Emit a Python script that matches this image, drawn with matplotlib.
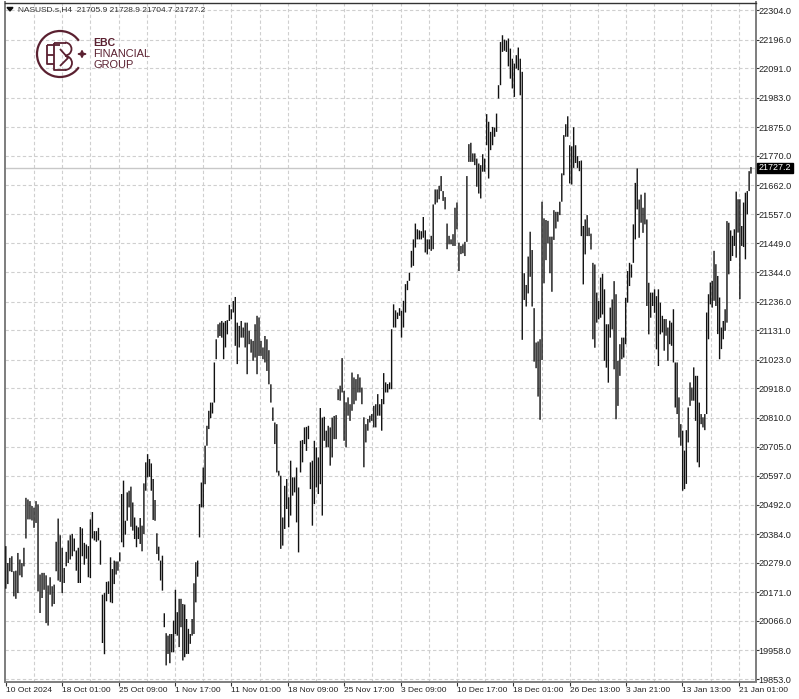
import numpy as np
import matplotlib
matplotlib.use("Agg")
import matplotlib.pyplot as plt
from matplotlib.patches import Arc, Rectangle, Polygon

# highs / lows, one pair of lists per stretch of the x axis
high_a = [20340,20278,20297,20303,20248,20250,20315,20291,20278,20334,20517,20511,20505,20487,20481,20505,20493,20236,20242,20242,20233,20196,20226,20193,20199,20356,20441,20380,20334,20260,20319,20361,20380,20385,20368,20324,20334,20410,20405,20352,20346,20340,20438,20465,20395,20395,20407,20361,20162,20168,20209,20211]
low_a = [20184,20201,20248,20245,20156,20147,20168,20233,20226,20266,20368,20438,20438,20434,20407,20425,20174,20095,20150,20180,20058,20049,20162,20119,20128,20248,20214,20209,20168,20205,20266,20278,20291,20303,20321,20250,20205,20205,20303,20272,20294,20226,20223,20368,20361,20356,20361,20272,19985,19944,20138,20165]

high_b = [20299,20256,20287,20284,20284,20317,20531,20580,20433,20537,20543,20558,20500,20445,20415,20409,20443,20415,20570,20647,20677,20659,20643,20586,20509,20387,20338,20287,20305,20094,20021,20012,20018,20018,20067,20180,20098,20147,20147,20128,20126,20073,20037,20018,20073,20204,20281,20287,20494,20573,20628,20708,20781,20836,20866,20866,21013,21098,21153,21159,21165,21159,21165,21168]
low_b = [20134,20131,20201,20236,20250,20284,20354,20336,20382,20433,20482,20411,20397,20366,20336,20366,20348,20321,20384,20543,20592,20594,20543,20436,20433,20311,20287,20214,20177,20043,19903,19945,19911,19951,19951,20018,20012,19970,20043,19921,19933,19945,19945,19982,20012,20018,20134,20228,20372,20482,20482,20567,20708,20769,20809,20826,20866,21025,21104,21110,21104,21025,21068,21116]

high_c = [21224,21208,21238,21253,21159,21147,21165,21141,21159,21159,21129,21098,21092,21153,21184,21178,21092,21068,21110,21098,21058,20933,20848,20793,20787,20616,20598,20445,20561,20586,20519,20653,20592,20592,20628,20555,20726,20729,20775,20777,20781,20647,20653,20726,20702,20665,20846,20811,20814,20763,20781,20775,20811,20817,20820,20915]
low_c = [21165,21171,21196,21074,21007,21068,21104,21104,21068,20970,21080,21049,21019,21031,20970,21037,21037,21025,21013,20982,20933,20866,20799,20714,20610,20598,20330,20342,20403,20476,20409,20452,20525,20537,20427,20317,20610,20647,20714,20689,20732,20549,20415,20494,20555,20531,20567,20452,20726,20702,20702,20635,20665,20732,20732,20875]

high_d = [20928,21029,20909,20867,20885,20860,20976,20958,20952,20970,20958,20921,20812,20787,20806,20818,20824,20854,20860,20897,20860,20879,20974,20940,20934,20940,21135,21226,21204,21196,21212,21202,21239,21300,21312,21342,21422,21464,21522,21501,21497,21494,21546,21497,21464,21464,21477,21592,21647,21647,21660,21696,21641,21619,21522,21477,21464,21483,21580,21599,21452]
low_d = [20873,20903,20726,20702,20818,20799,20836,20860,20873,20903,20903,20860,20629,20720,20763,20793,20799,20775,20775,20818,20818,20763,20860,20903,20903,20915,20915,21141,21141,21172,21184,21104,21141,21196,21278,21312,21361,21367,21434,21464,21464,21464,21470,21416,21409,21428,21422,21428,21592,21599,21611,21641,21605,21574,21428,21446,21446,21440,21440,21501,21348]

high_e = [21440,21446,21455,21696,21813,21818,21779,21779,21760,21742,21736,21776,21760,21923,21895,21858,21876,21874,21925,22029,22187,22212,22196,22193,22200,22163,22126,22108,22139,22167,22126,22078,21340,21297,21401,21492,21425,21212,21086,21090,21098,21602,21541,21535,21532,21474,21474,21571,21565,21565,21602,21706,21846,21886,21915,21809]
low_e = [21410,21413,21403,21455,21748,21748,21748,21736,21657,21632,21614,21712,21712,21809,21687,21791,21809,21840,21858,21980,22029,22151,22155,22151,22098,22053,22017,21986,22090,22084,21992,21096,21242,21218,21266,21327,21218,21016,20992,20888,20803,21022,21303,21388,21449,21340,21272,21462,21504,21529,21553,21602,21699,21840,21840,21669]

high_f = [21805,21875,21809,21769,21751,21753,21513,21537,21553,21507,21485,21378,21372,21269,21238,21324,21338,21281,21153,21153,21214,21244,21311,21263,21019,21080,21104,21104,21250,21348,21378,21372,21519,21671,21724,21610,21628,21580,21635,21537,21305,21269,21269,21281,21256,21281,21232]
low_f = [21665,21726,21744,21726,21714,21476,21299,21409,21476,21476,21427,21098,21067,21159,21171,21177,21189,21019,20994,20939,21104,21134,20988,20805,20854,20964,21025,21031,21080,21232,21293,21324,21378,21464,21574,21470,21525,21488,21519,21220,21116,21177,21220,21195,21061,21000,21116]

high_g = [21184,21172,21172,21141,21166,21159,21208,21013,21013,20885,20787,20763,20690,20765,20848,20940,20921,20995,20964,20964,20866,20824,20812,20824,21196,21263,21306,21312,21422,21373,21330,21251,21141,21165,21208,21531,21525,21497,21477,21501,21639,21611,21611,21513,21599,21635,21641,21714,21729]
low_g = [21123,21056,21111,21019,21080,21074,21013,20848,20824,20738,20708,20543,20549,20568,20720,20854,20873,20873,20799,20647,20629,20787,20775,20765,20824,21098,21226,21214,21239,21220,21117,21025,21062,21098,21129,21159,21336,21385,21403,21440,21397,21489,21245,21440,21436,21391,21556,21641,21705]

# bar numbers on the time axis covered by each stretch
spans = [(0, 51), (52, 110), (111, 165), (166, 225), (226, 280), (281, 325), (326, 370)]
highs = [high_a, high_b, high_c, high_d, high_e, high_f, high_g]
lows = [low_a, low_b, low_c, low_d, low_e, low_f, low_g]

price_ticks = [22304,22196,22091,21983,21875,21770,21662,21557,21449,21344,21236,21131,21023,20918,20810,20705,20597,20492,20384,20279,20171,20066,19958,19853]
date_ticks = [0, 28, 56, 84, 112, 140, 168, 196, 224, 252, 280, 308, 336, 364]
date_labels = ["10 Oct 2024","18 Oct 01:00","25 Oct 09:00","1 Nov 17:00","11 Nov 01:00","18 Nov 09:00","25 Nov 17:00","3 Dec 09:00","10 Dec 17:00","18 Dec 01:00","26 Dec 13:00","3 Jan 21:00","13 Jan 13:00","21 Jan 01:00"]
header = "NASUSD.s,H4  21705.9 21728.9 21704.7 21727.2"
last_price = 21727.2

W, H = 799, 699
plt.rcParams["font.family"] = ["Liberation Sans", "DejaVu Sans"]
fig = plt.figure(figsize=(W / 100, H / 100), dpi=100)
ax = fig.add_axes([5.3 / W, 1 - 681.5 / H, (755.5 - 5.3) / W, (681.5 - 2.5) / H])
ax.set_xlim(-0.25, 372.25)
ax.set_ylim(19844, 22332)

for g in price_ticks:
    ax.axhline(g, color="#cfcfcf", lw=0.8, dashes=(3, 2.2), zorder=1)
for g in range(14, 372, 14):
    ax.axvline(g, color="#cfcfcf", lw=0.8, dashes=(3, 2.2), zorder=1)
ax.axhline(last_price, color="#c8c8c8", lw=1, zorder=1)

for (a, b), hi, lo in zip(spans, highs, lows):
    xs = np.linspace(a, b, len(hi))
    bars = ax.vlines(xs, lo, hi, color="#111111", lw=1.0, zorder=3)
    bars.set_snap(False)

for s in ax.spines.values():
    s.set_color("#7d7d7d")
    s.set_linewidth(1.4)
ax.spines["top"].set_color("#333333")
ax.spines["top"].set_linewidth(1)

ax.yaxis.tick_right()
ax.set_yticks(price_ticks)
ax.set_yticklabels(["%.1f" % p for p in price_ticks], fontsize=6.6, color="#222222")
ax.tick_params(axis="y", length=2, width=0.8, pad=0.3, color="#333333")
ax.set_xticks(date_ticks)
ax.set_xticklabels(date_labels, fontsize=6.0, color="#222222", ha="left")
ax.tick_params(axis="x", length=3, width=0.8, pad=0.6, color="#333333")

# overlay in pixel units for the header, price box and logo
ov = fig.add_axes([0, 0, 1, 1])
ov.set_xlim(0, W)
ov.set_ylim(H, 0)
ov.axis("off")
ov.patch.set_alpha(0)
ov.add_patch(Polygon([[7, 7.5], [13, 7.5], [10, 11]], color="#111111"))
ov.text(18.5, 9.5, header, fontsize=6.0, color="#333333", va="center", ha="left")
ov.add_patch(Rectangle((757, 163), 36, 10, color="black"))
ov.text(775, 168, "21727.2", fontsize=6.4, color="white", va="center", ha="center")

maroon = "#5a2030"
ov.add_patch(Arc((60, 54), 46, 46, theta1=35, theta2=325, color=maroon, lw=1.6))
for seg in [[(47, 45), (47, 64), (54, 64)], [(47, 45), (60, 45)], [(47, 54.5), (54, 54.5)],
            [(54, 43), (54, 70), (66, 70)], [(54, 43), (66, 43)], [(60, 49), (68, 58), (60, 66)]]:
    px, py = zip(*seg)
    ov.plot(px, py, color=maroon, lw=1.3, solid_capstyle="butt")
ov.add_patch(Arc((65, 49), 13, 13, theta1=-90, theta2=90, color=maroon, lw=1.3))
ov.add_patch(Arc((65, 63), 14, 14, theta1=-90, theta2=90, color=maroon, lw=1.3))
ov.add_patch(Polygon([[82, 50.5], [83.2, 53.2], [86, 54], [83.2, 54.8], [82, 57.5], [80.8, 54.8], [78, 54], [80.8, 53.2]], color=maroon))
ov.text(93, 42.5, "EBC", fontsize=7.6, weight="bold", color=maroon, va="center", ha="left")
ov.text(93, 54, "FINANCIAL", fontsize=7.9, color=maroon, va="center", ha="left")
ov.text(93, 65.5, "GROUP", fontsize=7.9, color=maroon, va="center", ha="left")

fig.savefig("out.png", dpi=100)
